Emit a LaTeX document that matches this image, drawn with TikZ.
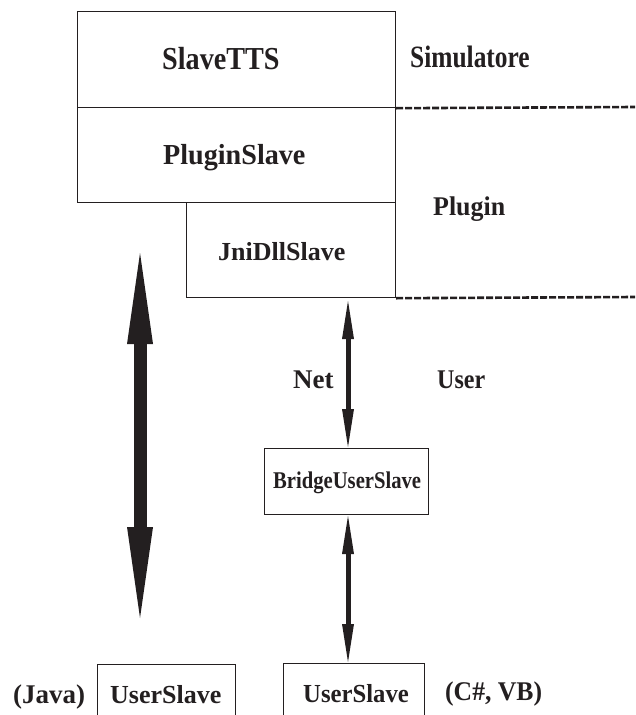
\documentclass[tikz,border=0pt]{standalone}
\usepackage{fontspec}
\setmainfont{Liberation Serif}
\usepackage{graphicx}
\usetikzlibrary{arrows.meta}
\definecolor{ink}{RGB}{35,31,32}
\newcommand{\lbl}[3]{\fontsize{#1}{#1}\selectfont\scalebox{#2}[1]{#3}}
\tikzset{
  box/.style={draw=ink, line width=1.2pt, inner sep=0, anchor=north west},
  lab/.style={inner sep=0, anchor=base west, text=ink, font=\bfseries},
  sep/.style={draw=ink, line width=2.6pt, dash pattern=on 7pt off 2pt},
  thin/.style={draw=ink, line width=5pt, {Triangle[length=38pt,width=12pt,line width=0pt]}-{Triangle[length=38pt,width=12pt,line width=0pt]}},
  thick/.style={draw=ink, line width=13pt, {Triangle[length=91pt,width=26pt,line width=0pt]}-{Triangle[length=91pt,width=26pt,line width=0pt]}}
}
\begin{document}
\begin{tikzpicture}[x=1pt,y=-1pt]
\useasboundingbox (0,0) rectangle (635,715);
% boxes
\node[box, minimum width=318pt, minimum height=96pt] (tts) at (77,11) {};
\node[box, minimum width=318pt, minimum height=95pt] (plug) at (77,107) {};
\node[box, minimum width=209pt, minimum height=95pt] (jni) at (186,202) {};
\node[box, minimum width=164pt, minimum height=66pt] (bridge) at (264,448) {};
\node[box, minimum width=138pt, minimum height=60pt] (us1) at (97,664) {};
\node[box, minimum width=141pt, minimum height=60pt] (us2) at (283,663) {};
% texts
\node[lab] (tttts) at (162,69) {\lbl{32}{0.88}{SlaveTTS}};
\node[lab] (ttplug) at (163,164) {\lbl{29}{0.97}{PluginSlave}};
\node[lab] (ttjni) at (218,260) {\lbl{26}{1.0}{JniDllSlave}};
\node[lab] (ttsim) at (410,67) {\lbl{31}{0.82}{Simulatore}};
\node[lab] (ttplugin) at (433,215) {\lbl{27}{0.96}{Plugin}};
\node[lab] (ttnet) at (293,388) {\lbl{27}{1.0}{Net}};
\node[lab] (ttuser) at (437,388) {\lbl{27}{0.89}{User}};
\node[lab] (ttbridge) at (273,488) {\lbl{24}{0.86}{BridgeUserSlave}};
\node[lab] (ttjava) at (13,703) {\lbl{27}{1.0}{(Java)}};
\node[lab] (ttus1) at (110,703) {\lbl{26}{1.0}{UserSlave}};
\node[lab] (ttus2) at (303,702) {\lbl{26}{0.95}{UserSlave}};
\node[lab] (ttcs) at (445,700) {\lbl{27}{0.95}{(C\#, VB)}};
% dashed separators
\coordinate (d1) at (635,107);
\coordinate (d2) at (635,297);
\draw[sep] (tts.south east) -- (d1);
\draw[sep] (jni.south east) -- (d2);
% arrows
\coordinate (a1) at (348,301);
\coordinate (a2) at (348,447);
\coordinate (a3) at (348,516);
\coordinate (a4) at (348,662);
\draw[thin] (a1) -- (a2);
\draw[thin] (a3) -- (a4);
\coordinate (t1) at (140,253);
\coordinate (t2) at (140,618);
\draw[thick] (t1) -- (t2);
\end{tikzpicture}
\end{document}
